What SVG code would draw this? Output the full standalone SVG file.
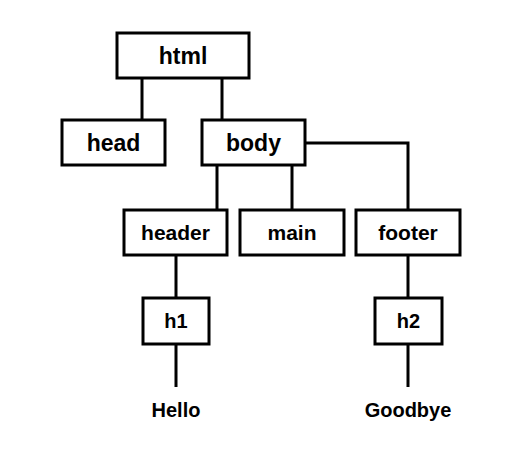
<svg xmlns="http://www.w3.org/2000/svg" width="523" height="467" viewBox="0 0 523 467">
<style>
.box{fill:#fff;stroke:#000;stroke-width:3}
.lbl{font-family:"Liberation Sans",Arial,sans-serif;font-weight:bold;font-size:20px;text-anchor:middle;fill:#000}
.l1{font-size:23px}
.l2{font-size:21px}
.ln{stroke:#000;stroke-width:3;fill:none}
</style>
<rect width="523" height="467" fill="#fff"/>
<g id="connectors">
<path class="ln" d="M142,78V120M222,78V120M217,165V210M292,165V210M305,143H408V210M176,255V298M408,255V298M176,344V387M408,344V387"/>
</g>
<g id="html"><rect class="box" x="117" y="33" width="132" height="45"/><text class="lbl l1" x="183" y="63.5">html</text></g>
<g id="head"><rect class="box" x="62" y="120" width="103" height="45"/><text class="lbl l1" x="113.5" y="150.5">head</text></g>
<g id="body"><rect class="box" x="202" y="120" width="103" height="45"/><text class="lbl l1" x="253.5" y="150.5">body</text></g>
<g id="header"><rect class="box" x="124" y="210" width="103" height="45"/><text class="lbl l2" x="175.5" y="240">header</text></g>
<g id="main"><rect class="box" x="240" y="210" width="104" height="45"/><text class="lbl l2" x="292" y="240">main</text></g>
<g id="footer"><rect class="box" x="356" y="210" width="104" height="45"/><text class="lbl l2" x="408" y="240">footer</text></g>
<g id="h1"><rect class="box" x="143" y="298" width="66" height="46"/><text class="lbl" x="176" y="328">h1</text></g>
<g id="h2"><rect class="box" x="375" y="298" width="67" height="46"/><text class="lbl" x="408.5" y="328">h2</text></g>
<g id="hello"><text class="lbl" x="176" y="417">Hello</text></g>
<g id="goodbye"><text class="lbl" x="408" y="417">Goodbye</text></g>
</svg>
